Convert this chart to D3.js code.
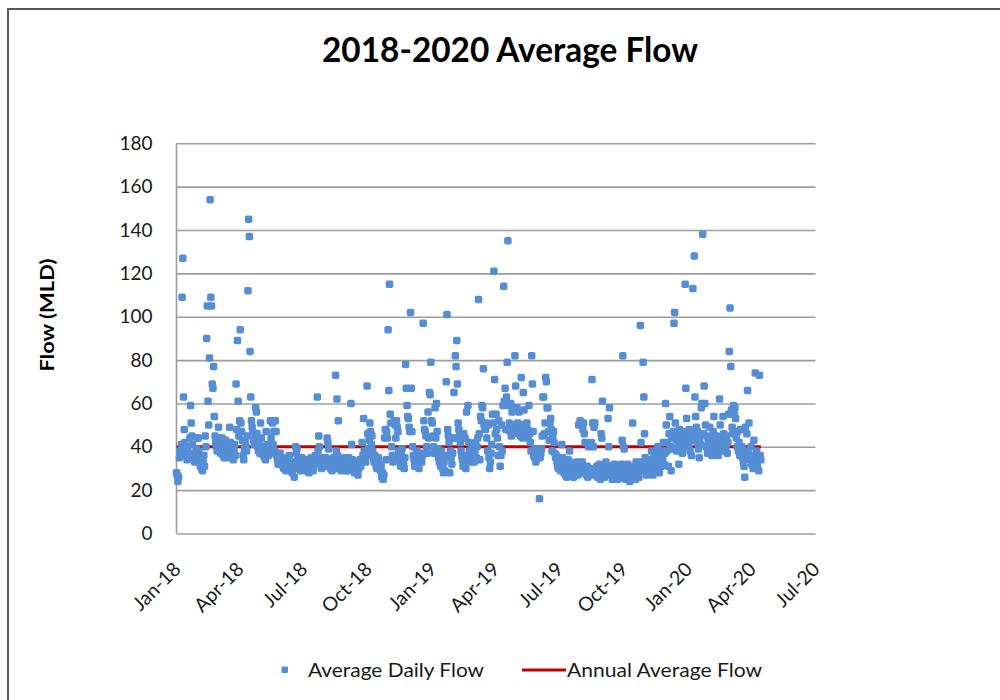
<!DOCTYPE html>
<html>
<head>
<meta charset="utf-8">
<script src="https://cdn.jsdelivr.net/npm/d3@7"></script>
<style>
  html, body { margin: 0; padding: 0; background: #fff; }
  svg { display: block; }
  text { font-family: Lato, "Open Sans", sans-serif; fill: #1a1a1a; }
</style>
</head>
<body>
<svg id="chart" width="1000" height="700"></svg>
<script>
// ---------------- DATA (daily average flow, MLD) ----------------
const flow2018 = [
  // Jan
  28,27,24,26,35,38,36,41,109,127,63,48,42,38,36,34,40,37,35,44,59,51,45,41,37,34,33,36,39,35,44,
  // Feb
  44,38,33,31,35,30,29,33,36,31,45,40,90,105,61,50,81,154,109,105,69,67,77,54,45,42,40,38,
  // Mar
  44,49,42,39,37,41,44,38,36,35,40,43,39,37,35,38,36,49,42,40,37,35,34,38,41,36,69,48,89,61,45,
  // Apr
  52,94,51,47,43,36,34,39,42,40,38,45,112,145,137,84,63,52,49,47,43,41,44,58,56,46,40,38,42,37,
  // May
  51,44,40,37,36,39,35,34,47,41,38,36,39,37,52,44,37,51,41,47,38,52,47,36,34,32,33,35,37,34,32,
  // Jun
  33,31,30,34,32,29,31,35,33,30,36,32,30,29,28,31,30,26,33,40,37,39,34,31,30,32,29,33,35,31,
  // Jul
  32,30,33,31,29,34,32,30,28,31,33,35,32,30,29,31,34,36,33,35,63,38,45,40,34,32,30,31,33,35,32,
  // Aug
  33,35,31,44,42,39,34,32,30,31,29,33,35,31,30,73,38,62,36,52,34,32,30,29,31,33,30,32,35,31,29,
  // Sep
  31,29,33,35,32,30,60,41,34,31,29,28,30,33,31,29,27,30,32,34,31,33,42,36,53,38,35,33,36,68,
  // Oct
  46,39,43,51,47,41,45,38,35,33,36,34,31,30,33,35,32,30,29,31,26,28,25,27,44,48,34,47,44,94,66,
  // Nov
  115,55,51,40,36,33,35,52,50,44,52,49,47,38,35,33,31,36,39,34,32,30,35,78,67,59,54,53,49,47,
  // Dec
  102,67,47,40,36,34,31,33,35,38,36,32,30,34,37,35,33,36,97,52,48,47,45,40,37,56,44,65,64,79,52
];
const flow2019 = [
  // Jan
  51,45,40,37,58,44,60,47,39,35,33,36,31,38,34,30,28,33,29,36,70,101,48,45,42,28,38,35,32,37,44,
  // Feb
  65,44,82,77,89,69,51,48,45,42,38,36,34,31,46,33,44,30,56,36,59,42,38,35,33,37,40,34,
  // Mar
  36,33,38,42,35,40,44,108,46,34,54,52,59,58,76,50,49,48,51,44,38,50,35,30,33,37,41,55,51,121,71,
  // Apr
  46,55,48,44,36,52,40,31,36,50,38,59,114,61,67,48,63,79,135,59,51,47,60,45,56,49,58,50,82,68,
  // May
  47,58,51,46,56,50,45,72,49,44,65,57,50,47,45,51,48,44,59,46,42,38,82,69,47,36,35,39,33,37,35,
  // Jun
  38,36,16,35,37,39,45,63,63,46,51,72,70,58,58,47,43,51,53,48,38,45,47,42,37,35,36,33,31,30,
  // Jul
  33,30,29,32,41,35,31,28,30,27,29,26,31,34,30,38,33,29,27,30,28,26,29,31,28,30,33,27,50,32,52,
  // Aug
  30,28,33,48,51,46,42,29,27,31,26,40,28,30,27,42,71,51,40,49,51,29,27,31,26,30,28,32,25,46,44,
  // Sep
  61,31,28,26,30,33,29,27,53,40,58,31,29,27,25,30,28,32,26,29,31,27,25,28,30,26,29,32,43,82,
  // Oct
  40,39,28,25,30,27,32,26,29,24,28,31,27,51,30,26,29,25,33,28,27,31,26,29,96,42,33,30,79,63,46,
  // Nov
  35,30,27,32,29,34,31,28,33,38,30,27,35,32,29,37,31,34,40,30,28,36,33,31,38,35,42,32,37,60,
  // Dec
  50,38,42,31,46,54,40,29,44,39,47,97,102,51,43,38,45,41,32,48,42,39,46,37,43,40,47,115,67,53,44
];
const flow2020 = [
  // Jan
  45,41,48,38,43,36,46,113,44,128,63,54,49,42,47,39,35,44,41,58,60,138,46,68,60,50,40,45,37,43,41,
  // Feb
  49,38,44,36,41,47,54,39,43,37,45,40,36,42,62,50,44,38,41,54,46,39,43,40,45,37,42,55,84,
  // Mar
  104,77,57,49,46,59,55,58,53,44,40,47,38,42,36,48,37,40,35,33,31,26,49,38,46,66,37,51,35,34,40,
  // Apr
  32,36,30,43,34,74,33,38,31,35,29,73,36,34
];
const seriesStarts = ["2018-01-01", "2019-01-01", "2020-01-01"];

const annualAvgDates  = ["2018-01-01", "2018-12-31", "2019-01-01", "2019-12-31", "2020-01-01", "2020-04-14"];
const annualAvgValues = [40, 40, 40, 40, 40, 40];

const xTickDates  = ["2018-01-01","2018-04-01","2018-07-01","2018-10-01","2019-01-01","2019-04-01",
                     "2019-07-01","2019-10-01","2020-01-01","2020-04-01","2020-07-01"];
const xTickLabels = ["Jan-18","Apr-18","Jul-18","Oct-18","Jan-19","Apr-19",
                     "Jul-19","Oct-19","Jan-20","Apr-20","Jul-20"];
const yTicks = [0, 20, 40, 60, 80, 100, 120, 140, 160, 180];

const titleText = "2018-2020 Average Flow";
const yTitleText = "Flow (MLD)";
const legendLabels = ["Average Daily Flow", "Annual Average Flow"];

// ---------------- BUILD ----------------
const parse = d3.utcParse("%Y-%m-%d");
const DAY = 86400000;
const points = [];
[flow2018, flow2019, flow2020].forEach((arr, i) => {
  const start = parse(seriesStarts[i]).getTime();
  arr.forEach((v, k) => points.push({ date: new Date(start + k * DAY), value: v }));
});
const avgLine = annualAvgDates.map((d, i) => ({ date: parse(d), value: annualAvgValues[i] }));

const svg = d3.select("#chart");
const plot = { left: 176.5, right: 815.5, top: 143.3, bottom: 533.5 };

const x = d3.scaleUtc()
  .domain([parse("2018-01-01"), parse("2020-07-01")])
  .range([plot.left, plot.right]);
const y = d3.scaleLinear().domain([0, 180]).range([plot.bottom, plot.top]);

svg.append("rect").attr("width", 1000).attr("height", 700).attr("fill", "#fff");

// outer frame
svg.append("path")
  .attr("d", "M8,702 L8,9 L1002,9")
  .attr("fill", "none").attr("stroke", "#5a5a5a").attr("stroke-width", 2);

// title
svg.append("text")
  .attr("x", 510).attr("y", 62)
  .attr("text-anchor", "middle")
  .attr("textLength", 376).attr("lengthAdjust", "spacingAndGlyphs")
  .style("font-size", "34px").style("font-weight", "bold").style("fill", "#000")
  .text(titleText);

// gridlines
const yAxis = d3.axisLeft(y).tickValues(yTicks).tickSize(-(plot.right - plot.left)).tickPadding(24);
const gy = svg.append("g").attr("transform", `translate(${plot.left},0)`).call(yAxis);
gy.select(".domain").remove();
gy.selectAll(".tick line").attr("stroke", "#9d9d9d").attr("stroke-width", 1.6);
gy.selectAll(".tick text")
  .style("font-size", "19px").style("font-family", "Lato, sans-serif").attr("fill", "#1a1a1a");

// y axis line
svg.append("line")
  .attr("x1", plot.left).attr("x2", plot.left)
  .attr("y1", plot.top).attr("y2", plot.bottom)
  .attr("stroke", "#9d9d9d").attr("stroke-width", 1.6);

// x axis labels
const xAxis = d3.axisBottom(x)
  .tickValues(xTickDates.map(parse))
  .tickFormat((d, i) => xTickLabels[i])
  .tickSize(0);
const gx = svg.append("g").attr("transform", `translate(0,${plot.bottom})`).call(xAxis);
gx.select(".domain").remove();
gx.selectAll(".tick text")
  .attr("text-anchor", "end")
  .attr("x", 0).attr("y", 0).attr("dy", 0)
  .attr("transform", "translate(5,37) rotate(-45)")
  .style("font-size", "19.5px").style("font-family", "Lato, sans-serif").attr("fill", "#1a1a1a");

// y axis title
svg.append("text")
  .attr("transform", "translate(46,315) rotate(-90)")
  .attr("text-anchor", "middle").attr("dominant-baseline", "central")
  .attr("textLength", 113).attr("lengthAdjust", "spacingAndGlyphs")
  .style("font-size", "19px").style("font-weight", "bold").style("fill", "#000")
  .text(yTitleText);

// annual average line
svg.append("path")
  .datum(avgLine)
  .attr("fill", "none").attr("stroke", "#C00000").attr("stroke-width", 3)
  .attr("d", d3.line().x(d => x(d.date)).y(d => y(d.value)));

// daily points
const ms = 7.5;
svg.append("g").selectAll("rect")
  .data(points)
  .join("rect")
  .attr("x", d => x(d.date) - ms / 2)
  .attr("y", d => y(d.value) - ms / 2)
  .attr("width", ms).attr("height", ms)
  .attr("rx", 1.8)
  .attr("fill", "#558ED5");

// legend
const lg = svg.append("g");
lg.append("rect").attr("x", 281.5).attr("y", 666.5).attr("width", 6.5).attr("height", 6.5)
  .attr("rx", 1.2).attr("fill", "#558ED5");
lg.append("text").attr("x", 308).attr("y", 676.5)
  .attr("textLength", 176).attr("lengthAdjust", "spacingAndGlyphs")
  .style("font-size", "19px").text(legendLabels[0]);
lg.append("line").attr("x1", 522).attr("x2", 566).attr("y1", 670).attr("y2", 670)
  .attr("stroke", "#C00000").attr("stroke-width", 3);
lg.append("text").attr("x", 567).attr("y", 676.5)
  .attr("textLength", 195).attr("lengthAdjust", "spacingAndGlyphs")
  .style("font-size", "19px").text(legendLabels[1]);
</script>
</body>
</html>
